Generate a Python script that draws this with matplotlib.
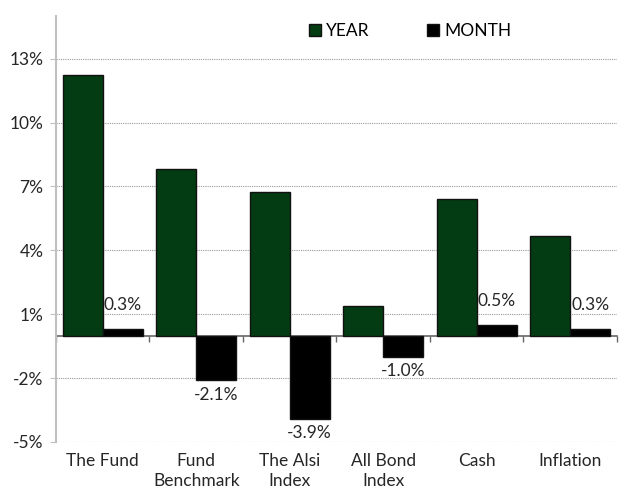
import numpy as np
import matplotlib.pyplot as plt

plt.rcParams['font.family'] = ['Lato', 'DejaVu Sans']

categories = ['The Fund', 'Fund\nBenchmark', 'The Alsi\nIndex', 'All Bond\nIndex', 'Cash', 'Inflation']
year = [12.25, 7.82, 6.74, 1.39, 6.43, 4.68]
month = [0.3, -2.1, -3.9, -1.0, 0.5, 0.3]
yticks = [-5, -2, 1, 4, 7, 10, 13]

green = '#033c12'
grey = '#bfbfbf'
txt = '#262626'

fig = plt.figure(figsize=(6.36, 5.0), dpi=100)
ax = fig.add_axes([0.088, 0.116, 0.882, 0.852])

x = np.arange(len(categories))
w = 0.428
ax.bar(x - w / 2, year, w, color=green, edgecolor='#111111', linewidth=1.0, label='YEAR', zorder=3)
ax.bar(x + w / 2, month, w, color='black', edgecolor='#111111', linewidth=1.0, label='MONTH', zorder=3)

for xi, v in zip(x, month):
    if v >= 0:
        ax.text(xi + w / 2, v + 0.75, f'{v:.1f}%', ha='center', va='bottom', fontsize=12.5, color=txt)
    else:
        ax.text(xi + w / 2, v - 0.3, f'{v:.1f}%', ha='center', va='top', fontsize=12.5, color=txt)

ymin, ymax = -5, 15
ax.set_ylim(ymin, ymax)
ax.set_xlim(-0.5, len(categories) - 0.5)
ax.set_yticks(yticks)
ax.set_yticklabels([f'{t}%' for t in yticks], fontsize=12.5, color=txt)
ax.yaxis.grid(True, linestyle=(0, (1, 1)), color='#999999', linewidth=0.8)
ax.set_axisbelow(True)
ax.tick_params(axis='y', length=4, color=grey, pad=5)

ax.set_xticks(x)
ax.set_xticklabels(categories, fontsize=12.5, color=txt, linespacing=1.3)
ax.tick_params(axis='x', length=0, pad=8)

for s in ['top', 'right', 'bottom']:
    ax.spines[s].set_visible(False)
ax.spines['left'].set_color(grey)
ax.spines['left'].set_linewidth(1.5)

# zero line with category separators
sec = ax.secondary_xaxis((0 - ymin) / (ymax - ymin))
sec.set_xticks(np.arange(len(categories) + 1) - 0.5)
sec.set_xticklabels([])
sec.tick_params(length=4, color='#666666', width=1)
sec.spines['bottom'].set_color('#666666')
sec.spines['bottom'].set_linewidth(1.2)

ax.legend(loc='upper center', bbox_to_anchor=(0.645, 0.985), bbox_transform=fig.transFigure,
          ncol=2, frameon=False, fontsize=12.5, handlelength=0.7, handleheight=0.7,
          handletextpad=0.3, columnspacing=3.3)

fig.savefig('out.png', dpi=100, facecolor='white')
